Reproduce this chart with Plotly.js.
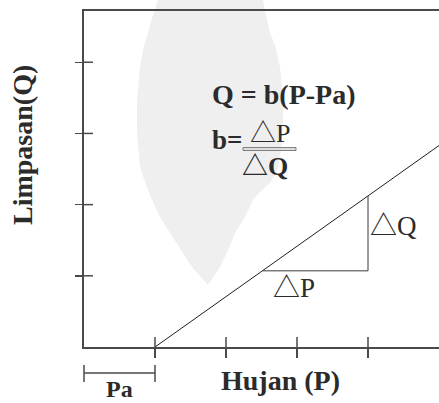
<!DOCTYPE html>
<html>
<head>
<meta charset="utf-8">
<script src="https://cdn.plot.ly/plotly-3.0.1.min.js"></script>
<style>html,body{margin:0;padding:0;background:#fff;}#chart{width:439px;height:403px;}</style>
</head>
<body>
<div id="chart"></div>
<script>
// ---- data ----
var xTicks = [1, 2, 3, 4];
var yTicks = [1, 2, 3, 4];
var paValue = 1;                 // Pa (threshold rainfall)
var lineP = [1, 5];              // Hujan (P)
var lineQ = [0, 2.83];           // Limpasan (Q)
var triP = [2.52, 4, 4];         // ΔP / ΔQ triangle
var triQ = [1.07, 1.07, 2.12];
var xRange = [0, 5];
var yRange = [0, 4.72];

// ---- layout helpers (pixel -> paper) ----
var L = 84, T = 11, W = 355, H = 336;
function px(x){ return (x - L) / W; }
function py(y){ return (T + H - y) / H; }
function pathFrom(pts){
  var s = 'M ' + px(pts[0][0]).toFixed(4) + ',' + py(pts[0][1]).toFixed(4);
  for (var i = 1; i < pts.length; i++) s += ' L ' + px(pts[i][0]).toFixed(4) + ',' + py(pts[i][1]).toFixed(4);
  return s + ' Z';
}
var wm = [[158,0],[152,18],[148,33],[143,50],[140,67],[137,100],[137,133],[140,167],[146,185],[152,200],[160,217],
          [170,233],[181,250],[192,267],[200,276],[208,285],[214,276],[220,267],[228,250],[235,233],[245,217],[253,200],
          [262,190],[270,183],[277,170],[281,150],[283,120],[283,100],[280,67],[275,45],[270,33],[266,15],[263,0]];

var serif = 'Liberation Serif, Times New Roman, serif';
var sym = 'Liberation Serif, Noto Sans CJK SC, serif';
var txt = '#2b2b2b';
var axc = '#4a4a4a';

var traces = [
  {x: lineP, y: lineQ, type: 'scatter', mode: 'lines', line: {color: '#1e1e1e', width: 1}, hoverinfo: 'skip', showlegend: false},
  {x: triP, y: triQ, type: 'scatter', mode: 'lines', line: {color: '#3a3a3a', width: 1}, hoverinfo: 'skip', showlegend: false}
];

var axBase = {showgrid: false, zeroline: false, showticklabels: false, tickcolor: axc, tickwidth: 1.5, fixedrange: true};

var shapes = [
  {type: 'path', xref: 'paper', yref: 'paper', path: pathFrom(wm), fillcolor: '#efefef', line: {width: 0}, layer: 'below'},
  // Pa bracket
  {type: 'line', xref: 'paper', yref: 'paper', x0: 0, x1: paValue / xRange[1], y0: py(373), y1: py(373), line: {color: axc, width: 1.5}},
  {type: 'line', xref: 'paper', yref: 'paper', x0: 0, x1: 0, y0: py(365), y1: py(382), line: {color: axc, width: 1.5}},
  {type: 'line', xref: 'paper', yref: 'paper', x0: paValue / xRange[1], x1: paValue / xRange[1], y0: py(365), y1: py(382), line: {color: axc, width: 1.5}},
  // fraction bar
  {type: 'rect', xref: 'paper', yref: 'paper', x0: px(243), x1: px(296), y0: py(147.5), y1: py(150.5), fillcolor: '#dcdcdc', line: {color: '#666', width: 0.8}}
];
// inner halves of the crossing ticks, placed on the axes' own scales
xTicks.forEach(function(v){
  shapes.push({type: 'line', xref: 'x', yref: 'paper', x0: v, x1: v, y0: 0, y1: 10 / H, line: {color: axc, width: 1.5}});
});
yTicks.forEach(function(v){
  shapes.push({type: 'line', xref: 'paper', yref: 'y', x0: 0, x1: 9 / W, y0: v, y1: v, line: {color: axc, width: 1.5}});
});

var layout = {
  width: 439, height: 403,
  margin: {l: L, r: 439 - L - W, t: T, b: 403 - T - H, pad: 0},
  paper_bgcolor: '#ffffff', plot_bgcolor: 'rgba(0,0,0,0)',
  showlegend: false,
  xaxis: Object.assign({}, axBase, {range: xRange, tickmode: 'array', tickvals: xTicks, ticks: 'outside', ticklen: 9,
           showline: true, linecolor: axc, linewidth: 2, mirror: true}),
  yaxis: Object.assign({}, axBase, {range: yRange, tickmode: 'array', tickvals: yTicks, ticks: 'outside', ticklen: 7,
           showline: true, linecolor: axc, linewidth: 2}),
  shapes: shapes,
  annotations: [
    {text: '<b>Limpasan(Q)</b>', xref: 'paper', yref: 'paper', x: px(22), y: py(145), textangle: -90, showarrow: false,
     font: {family: serif, size: 28, color: txt}, xanchor: 'center', yanchor: 'middle'},
    {text: '<b>Hujan (P)</b>', xref: 'paper', yref: 'paper', x: px(280), y: py(380), showarrow: false,
     font: {family: serif, size: 28, color: txt}, xanchor: 'center', yanchor: 'middle'},
    {text: '<b>Pa</b>', xref: 'paper', yref: 'paper', x: px(119), y: py(389), showarrow: false,
     font: {family: serif, size: 24, color: txt}, xanchor: 'center', yanchor: 'middle'},
    {text: '<b>Q = b(P-Pa)</b>', xref: 'paper', yref: 'paper', x: px(284), y: py(94), showarrow: false,
     font: {family: serif, size: 28, color: txt}, xanchor: 'center', yanchor: 'middle'},
    {text: '<b>b=</b>', xref: 'paper', yref: 'paper', x: px(227), y: py(140), showarrow: false,
     font: {family: serif, size: 27, color: txt}, xanchor: 'center', yanchor: 'middle'},
    {text: '△P', xref: 'paper', yref: 'paper', x: px(270), y: py(133), showarrow: false,
     font: {family: sym, size: 26, color: txt}, xanchor: 'center', yanchor: 'middle'},
    {text: '<b>△Q</b>', xref: 'paper', yref: 'paper', x: px(265), y: py(166), showarrow: false,
     font: {family: sym, size: 26, color: txt}, xanchor: 'center', yanchor: 'middle'},
    {text: '△Q', xref: 'paper', yref: 'paper', x: px(393), y: py(226), showarrow: false,
     font: {family: sym, size: 27, color: txt}, xanchor: 'center', yanchor: 'middle'},
    {text: '△P', xref: 'paper', yref: 'paper', x: px(294), y: py(288), showarrow: false,
     font: {family: sym, size: 27, color: txt}, xanchor: 'center', yanchor: 'middle'}
  ]
};

Plotly.newPlot('chart', traces, layout, {staticPlot: true, displayModeBar: false});
</script>
</body>
</html>
